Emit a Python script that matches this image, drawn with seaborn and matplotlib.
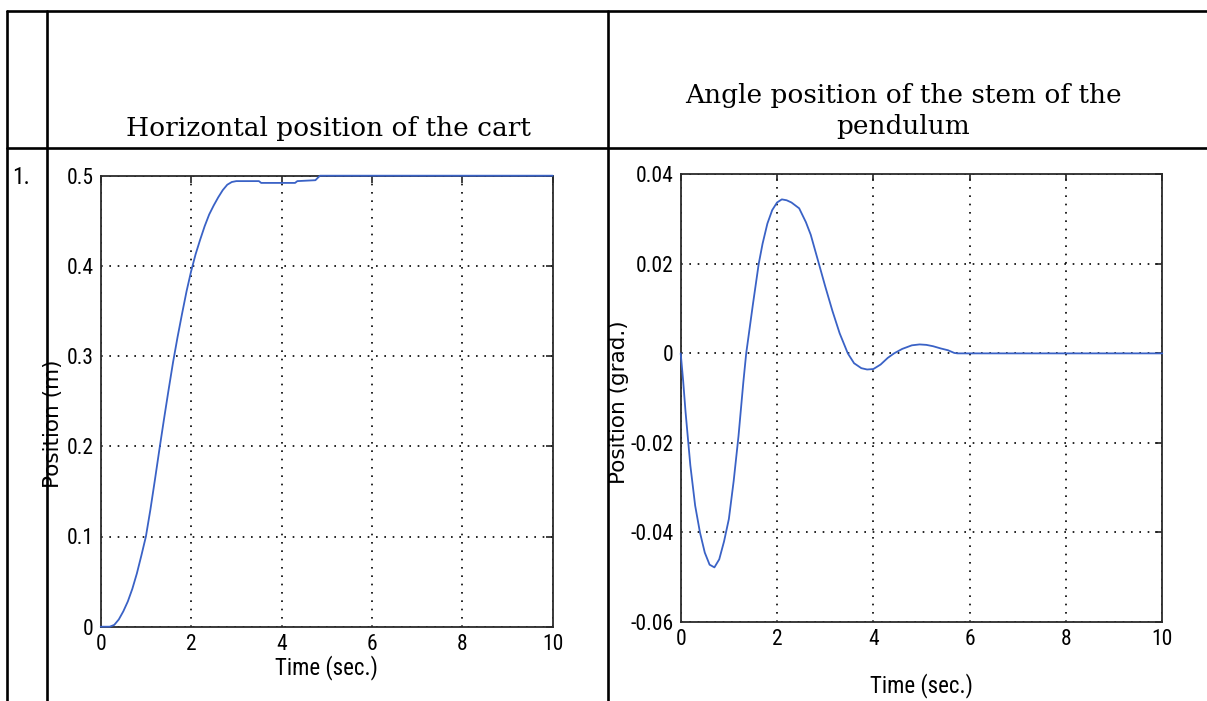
import matplotlib
matplotlib.use("Agg")
import matplotlib.pyplot as plt
from matplotlib.lines import Line2D
from matplotlib import font_manager
import pandas as pd
import seaborn as sns

# ---- data -------------------------------------------------------------
cart_time = [0.0, 0.1, 0.2, 0.3, 0.4, 0.5, 0.6, 0.7, 0.8, 0.9, 1.0, 1.1, 1.2,
             1.3, 1.4, 1.5, 1.6, 1.7, 1.8, 1.9, 2.0, 2.1, 2.2, 2.3, 2.4, 2.5,
             2.6, 2.7, 2.8, 2.9, 3.0, 3.5, 3.55, 4.3, 4.35, 4.75, 4.85, 10.0]
cart_pos = [0.0, 0.0, 0.0, 0.002, 0.008, 0.017, 0.028, 0.042, 0.059, 0.079,
            0.100, 0.130, 0.163, 0.197, 0.230, 0.262, 0.293, 0.321, 0.347,
            0.372, 0.394, 0.413, 0.429, 0.444, 0.457, 0.467, 0.476, 0.484,
            0.490, 0.493, 0.494, 0.494, 0.492, 0.492, 0.494, 0.495, 0.500, 0.500]

pend_time = [0.0, 0.05, 0.1, 0.15, 0.2, 0.3, 0.4, 0.5, 0.6, 0.7, 0.8, 0.9,
             1.0, 1.1, 1.2, 1.3, 1.36, 1.5, 1.62, 1.7, 1.8, 1.9, 2.0, 2.1,
             2.2, 2.3, 2.46, 2.6, 2.7, 2.87, 3.0, 3.15, 3.3, 3.47, 3.6, 3.75,
             3.87, 4.0, 4.15, 4.3, 4.43, 4.6, 4.8, 4.96, 5.1, 5.24, 5.4, 5.55,
             5.68, 5.75, 10.0]
pend_angle = [0.0, -0.006, -0.013, -0.019, -0.025, -0.034, -0.040, -0.0445,
              -0.0472, -0.0478, -0.046, -0.042, -0.037, -0.0285, -0.0185,
              -0.0065, 0.0, 0.011, 0.020, 0.0245, 0.029, 0.032, 0.0337,
              0.0344, 0.0342, 0.0337, 0.0324, 0.0293, 0.0265, 0.020, 0.015,
              0.0095, 0.0045, 0.0, -0.0022, -0.0033, -0.0036, -0.0035,
              -0.0025, -0.0010, 0.0, 0.0010, 0.0018, 0.0020, 0.0019, 0.0016,
              0.0011, 0.0007, 0.0001, 0.0, 0.0]

time_ticks = [0, 2, 4, 6, 8, 10]
time_tick_labels = ["0", "2", "4", "6", "8", "10"]
cart_ticks = [0.0, 0.1, 0.2, 0.3, 0.4, 0.5]
cart_tick_labels = ["0", "0.1", "0.2", "0.3", "0.4", "0.5"]
pend_ticks = [-0.06, -0.04, -0.02, 0.0, 0.02, 0.04]
pend_tick_labels = ["-0.06", "-0.04", "-0.02", "0", "0.02", "0.04"]

left_header = "Horizontal position of the cart"
right_header_lines = ["Angle position of the stem of the", "pendulum"]
row_label = "1."
time_label = "Time (sec.)"
cart_ylabel = "Position (m)"
pend_ylabel = "Position (grad.)"

# ---- style ------------------------------------------------------------
sns.set_theme(style="white")
names = {f.name for f in font_manager.fontManager.ttflist}
narrow = "Liberation Sans"
for cand in ("Liberation Sans Narrow", "Roboto Condensed", "Open Sans Condensed",
             "Noto Sans Condensed", "DejaVu Sans Condensed"):
    if cand in names:
        narrow = cand
        break
plt.rcParams["font.family"] = ["DejaVu Sans"]

W, H = 1207, 701
fig = plt.figure(figsize=(W / 100, H / 100), dpi=100)
fig.patch.set_facecolor("white")


def px_rect(x0, y0, x1, y1):
    return [x0 / W, 1 - y1 / H, (x1 - x0) / W, (y1 - y0) / H]


# table rules
table_kw = dict(color="black", linewidth=1.9, transform=fig.transFigure)
for y in (11, 148):
    fig.add_artist(Line2D([7 / W, 1.0], [1 - y / H, 1 - y / H], **table_kw))
for x in (7, 47, 608):
    fig.add_artist(Line2D([x / W, x / W], [1 - 11 / H, 0.0], **table_kw))

serif = dict(family="DejaVu Serif", fontsize=19, color="black")
fig.text(328 / W, 1 - 136 / H, left_header, ha="center", va="baseline", **serif)
for i, line in enumerate(right_header_lines):
    fig.text(903 / W, 1 - (103 + 31 * i) / H, line, ha="center", va="baseline", **serif)
fig.text(12 / W, 1 - 166 / H, row_label, ha="left", va="top",
         family=narrow, fontsize=17, color="black")

line_color = "#3a62c6"
grid_style = dict(color="black", linestyle=(0, (1, 4)), linewidth=1.2)
tick_fs = 15.5


def style_axes(ax, yticks, ylabels, ylim, xlab_y, ylab_x, ylab_y, ylabel):
    ax.set_xlim(0, 10)
    ax.set_ylim(*ylim)
    ax.set_xticks(time_ticks)
    ax.set_xticklabels(time_tick_labels, family=narrow, fontsize=tick_fs)
    ax.set_yticks(yticks)
    ax.set_yticklabels(ylabels, family=narrow, fontsize=tick_fs)
    ax.set_axisbelow(True)
    ax.grid(True, **grid_style)
    ax.tick_params(direction="in", length=5, width=1.2, top=True, right=True,
                   color="#222222", labelcolor="black", pad=5)
    for sp in ax.spines.values():
        sp.set_color("#2a2a2a")
        sp.set_linewidth(1.3)
        sp.set_visible(True)
    ax.set_xlabel(time_label, family=narrow, fontsize=16.5, color="black")
    ax.xaxis.set_label_coords(0.5, xlab_y)
    ax.set_ylabel(ylabel, family="DejaVu Sans", fontsize=15.5, color="black")
    ax.yaxis.set_label_coords(ylab_x, ylab_y)
    ax.set_facecolor("white")


ax1 = fig.add_axes(px_rect(100.7, 175.7, 552.7, 626.7))
cart_df = pd.DataFrame({"t": cart_time, "x": cart_pos})
sns.lineplot(data=cart_df, x="t", y="x", ax=ax1, color=line_color,
             linewidth=1.3, clip_on=False, zorder=3, estimator=None)
style_axes(ax1, cart_ticks, cart_tick_labels, (0, 0.5),
           -0.063, -0.083, 0.45, cart_ylabel)

ax2 = fig.add_axes(px_rect(680.7, 174.3, 1162.3, 622.0))
pend_df = pd.DataFrame({"t": pend_time, "a": pend_angle})
sns.lineplot(data=pend_df, x="t", y="a", ax=ax2, color=line_color,
             linewidth=1.3, clip_on=False, zorder=3, estimator=None)
style_axes(ax2, pend_ticks, pend_tick_labels, (-0.06, 0.04),
           -0.113, -0.107, 0.49, pend_ylabel)

fig.savefig("out.png", dpi=100, facecolor="white")
